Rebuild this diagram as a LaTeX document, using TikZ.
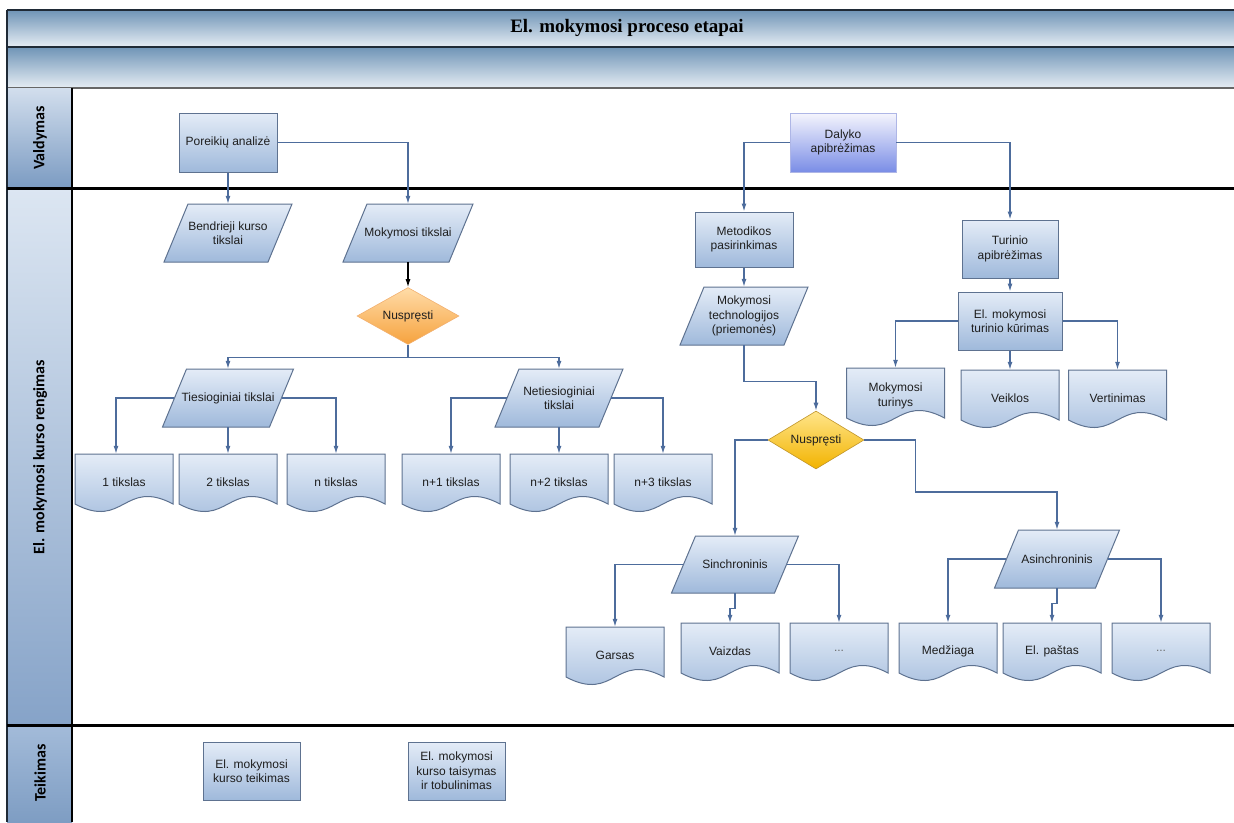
\documentclass[tikz,border=0pt]{standalone}
\usepackage{fontspec}
\setmainfont{Liberation Sans}
\newfontfamily\titlefont{Liberation Serif}
\newfontfamily\lanefont{Carlito}
\usetikzlibrary{arrows.meta,calc,shapes.geometric}

\definecolor{hdtop}{HTML}{6F94B6}
\definecolor{hdbot}{HTML}{E6EDF4}
\definecolor{hdline}{HTML}{1F2A36}
\definecolor{nodetop}{HTML}{E4ECF7}
\definecolor{nodebot}{HTML}{9FB9DB}
\definecolor{nodeline}{HTML}{5E7290}
\definecolor{wirec}{HTML}{4D6C9C}
\definecolor{txtc}{HTML}{1E1E1E}
\definecolor{dottxt}{HTML}{6A6A6A}
\definecolor{laneAtop}{HTML}{D2DEED}
\definecolor{laneAbot}{HTML}{7B9BC2}
\definecolor{laneBtop}{HTML}{DCE6F2}
\definecolor{laneBbot}{HTML}{86A3C8}
\definecolor{laneCtop}{HTML}{A3BBD9}
\definecolor{laneCbot}{HTML}{7E9DC3}
\definecolor{daltop}{HTML}{F5F5FD}
\definecolor{dalbot}{HTML}{7A8DE6}
\definecolor{dalline}{HTML}{AEB6E6}
\definecolor{orgtop}{HTML}{FFDCA8}
\definecolor{orgbot}{HTML}{F6A23E}
\definecolor{orgline}{HTML}{F2B070}
\definecolor{goldtop}{HTML}{FFE58A}
\definecolor{goldbot}{HTML}{F2B300}
\definecolor{goldline}{HTML}{C0952A}

\tikzset{
  shadedfill/.style={draw=nodeline, line width=1pt, top color=nodetop, bottom color=nodebot},
  txt/.style={inner sep=0pt, align=center, text=txtc, font=\fontsize{12}{14.5}\selectfont},
  procbox/.style={shadedfill, txt, rectangle, minimum width=98, minimum height=58},
  wire/.style={draw=wirec, line width=1.2pt, -{Latex[length=8pt,width=5pt]}},
  lanelabel/.style={rotate=90, text=black, font=\lanefont\bfseries\fontsize{16}{18}\selectfont},
  decide/.style={diamond, aspect=1.8, inner sep=0pt, txt, minimum width=102, minimum height=57},
}

% parallelogram: name, cx, cy, side length, height, text
\newcommand\pgram[6]{%
  \path[shadedfill] ({#2-#4/2-12},{#3+#5/2}) -- ({#2+#4/2-12},{#3+#5/2})
     -- ({#2+#4/2+12},{#3-#5/2}) -- ({#2-#4/2+12},{#3-#5/2}) -- cycle;
  \node[txt, minimum width=#4, minimum height=#5] (#1) at (#2,#3) {#6};
}
% document shape with wavy bottom: name, cx, top y, text
\newcommand\docshape[4]{%
  \path[shadedfill] ({#2-49},{#3}) -- ({#2+49},{#3}) -- ({#2+49},{#3+50})
     .. controls ({#2},{#3+24}) and ({#2},{#3+76}) .. ({#2-49},{#3+50}) -- cycle;
  \node[txt, minimum width=98, minimum height=56] (#1) at (#2,{#3+28}) {#4};
}

\begin{document}
\begin{tikzpicture}[x=1pt, y=-1pt]
\useasboundingbox (0,0) rectangle (1234,822);

% header bands
\path[top color=hdtop, bottom color=hdbot] (7,10) rectangle (1234,47);
\path[top color=hdtop, bottom color=hdbot] (7,47) rectangle (1234,88);
\draw[hdline, line width=1.8pt] (7,10) -- (1234,10);
\draw[hdline, line width=1.8pt] (7,47) -- (1234,47);
\draw[black!60, line width=1.4pt] (7,88) -- (1234,88);
\node[font=\titlefont\bfseries\fontsize{19}{22}\selectfont] (title) at (627,28) {El. mokymosi proceso etapai};

% lane label column
\path[top color=laneAtop, bottom color=laneAbot] (7,88) rectangle (72,188);
\path[top color=laneBtop, bottom color=laneBbot] (7,188) rectangle (72,725);
\path[top color=laneCtop, bottom color=laneCbot] (7,725) rectangle (72,822);
\draw[black, line width=1.2pt] (72,88) -- (72,822);
\draw[hdline, line width=1.4pt] (7,10) -- (7,822);
\draw[black, line width=3pt] (7,188) -- (1234,188);
\draw[black, line width=3pt] (7,725) -- (1234,725);
\node[lanelabel] (laneA) at (40,138) {Valdymas};
\node[lanelabel] (laneB) at (40,457) {El. mokymosi kurso rengimas};
\node[lanelabel] (laneC) at (40,773) {Teikimas};

% Valdymas lane
\node[procbox, minimum height=59] (por) at (228,142.5) {Poreikių analizė};
\node[txt, rectangle, draw=dalline, line width=0.8pt, top color=daltop, bottom color=dalbot,
      minimum width=106, minimum height=59] (dal) at (843,142.5) {Dalyko\\apibrėžimas};

% goals branch
\pgram{bend}{228}{233}{104}{58}{Bendrieji kurso\\tikslai}
\pgram{mt}{408}{233}{106}{58}{Mokymosi tikslai}
\node[decide, top color=orgtop, bottom color=orgbot, draw=orgline, line width=0.6pt] (dia1) at (408,316) {Nuspręsti};
\pgram{tt}{228}{398}{107}{58}{Tiesioginiai tikslai}
\pgram{nt}{559}{398}{104}{58}{Netiesioginiai\\tikslai}
\docshape{d1}{124}{454}{1 tikslas}
\docshape{d2}{228}{454}{2 tikslas}
\docshape{d3}{336}{454}{n tikslas}
\docshape{d4}{451}{454}{n+1 tikslas}
\docshape{d5}{559}{454}{n+2 tikslas}
\docshape{d6}{663}{454}{n+3 tikslas}

% method branch
\node[procbox, minimum height=55] (met) at (744,239.5) {Metodikos\\pasirinkimas};
\pgram{mtech}{744}{316}{104}{58}{Mokymosi\\technologijos\\(priemonės)}
\node[decide, minimum width=96, minimum height=58, top color=goldtop, bottom color=goldbot, draw=goldline, line width=0.6pt] (dia2) at (816,440) {Nuspręsti};
\pgram{sin}{735}{564.5}{103}{57}{Sinchroninis}
\pgram{asin}{1057}{559}{101}{58}{Asinchroninis}
\docshape{gars}{615}{627}{Garsas}
\docshape{vaiz}{730}{623}{Vaizdas}
\docshape{dotsA}{839}{623}{\textcolor{dottxt}{...}}
\docshape{medz}{948}{623}{Medžiaga}
\docshape{past}{1052}{623}{El. paštas}
\docshape{dotsB}{1161}{623}{\textcolor{dottxt}{...}}

% content branch
\node[procbox, minimum width=96] (tur) at (1010,249) {Turinio\\apibrėžimas};
\node[procbox, minimum width=104] (tk) at (1010,321) {El. mokymosi\\turinio kūrimas};
\docshape{mtur}{895.5}{368}{Mokymosi\\turinys}
\docshape{veik}{1010}{370}{Veiklos}
\docshape{vert}{1117.5}{370}{Vertinimas}

% Teikimas lane
\node[procbox, minimum width=97] (teik) at (251.5,771) {El. mokymosi\\kurso teikimas};
\node[procbox, minimum width=97] (tais) at (456.5,771) {El. mokymosi\\kurso taisymas\\ir tobulinimas};

% connectors
\draw[wire] (por.south) -- (bend.north);
\draw[wire] (por.east) -| (mt.north);
\draw[wire, draw=black] (mt.south) -- (dia1.north);
\draw[wire] (dia1.south) -- ++(0,13) -| (tt.north);
\draw[wire] (dia1.south) -- ++(0,13) -| (nt.north);
\draw[wire] (tt.west) -| ($(d1.north)+(-8,0)$);
\draw[wire] (tt.south) -- (d2.north);
\draw[wire] (tt.east) -| (d3.north);
\draw[wire] (nt.west) -| (d4.north);
\draw[wire] (nt.south) -- (d5.north);
\draw[wire] (nt.east) -| (d6.north);

\draw[wire] (dal.west) -| (met.north);
\draw[wire] (dal.east) -| (tur.north);
\draw[wire] (met.south) -- (mtech.north);
\draw[wire] (mtech.south) -- ++(0,36) -| (dia2.north);
\draw[wire] (dia2.west) -| (sin.north);
\draw[wire] (dia2.east) -- ++(51,0) -- ++(0,52) -| (asin.north);
\draw[wire] (sin.west) -| (gars.north);
\draw[wire] (sin.south) -- ++(0,15) -| (vaiz.north);
\draw[wire] (sin.east) -| (dotsA.north);
\draw[wire] (asin.west) -| (medz.north);
\draw[wire] (asin.south) -- ++(0,15) -| (past.north);
\draw[wire] (asin.east) -| (dotsB.north);

\draw[wire] (tur.south) -- (tk.north);
\draw[wire] (tk.west) -| (mtur.north);
\draw[wire] (tk.south) -- (veik.north);
\draw[wire] (tk.east) -| (vert.north);
\end{tikzpicture}
\end{document}
